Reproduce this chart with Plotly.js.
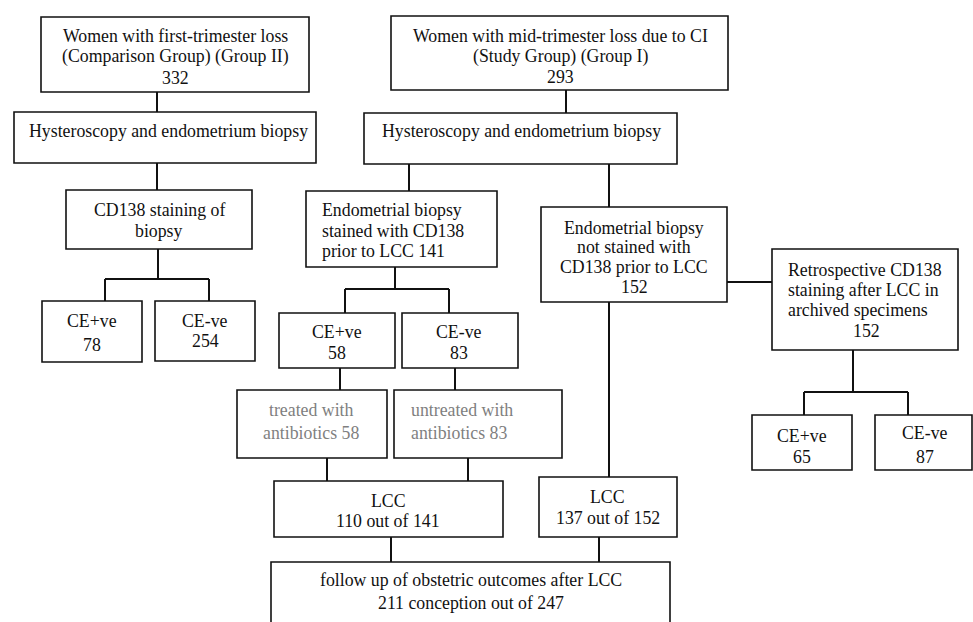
<!DOCTYPE html>
<html>
<head>
<meta charset="utf-8">
<script src="https://cdn.plot.ly/plotly-3.0.1.min.js"></script>
<style>html,body{margin:0;padding:0;background:#fff;}#chart{width:973px;height:622px;}</style>
</head>
<body>
<div id="chart"></div>
<script>
// ---- DATA ----
const nodeKeys = ['g2','hys2','stain2','g2pos','g2neg','g1','hys1','stained','g1pos','g1neg',
                  'treated','untreated','lcc1','notStained','retro','rpos','rneg','lcc2','follow'];
const nodeLines = [
  ['Women with first-trimester loss','(Comparison Group) (Group II)','{n}'],
  ['Hysteroscopy and endometrium biopsy'],
  ['CD138 staining of','biopsy'],
  ['CE+ve','{n}'],
  ['CE-ve','{n}'],
  ['Women with mid-trimester loss due to CI','(Study Group) (Group I)','{n}'],
  ['Hysteroscopy and endometrium biopsy'],
  ['Endometrial biopsy','stained with CD138','prior to LCC {n}'],
  ['CE+ve','{n}'],
  ['CE-ve','{n}'],
  ['treated with','antibiotics {n}'],
  ['untreated with','antibiotics {n}'],
  ['LCC','{n} out of {d}'],
  ['Endometrial biopsy','not stained with','CD138 prior to LCC','{n}'],
  ['Retrospective CD138','staining after LCC in','archived specimens','{n}'],
  ['CE+ve','{n}'],
  ['CE-ve','{n}'],
  ['LCC','{n} out of {d}'],
  ['follow up of obstetric outcomes after LCC','{n} conception out of {d}']
];
const nodeCounts = [332,null,null,78,254,293,null,141,58,83,58,83,110,152,152,65,87,137,211];
const nodeTotals = [null,null,null,null,null,null,null,null,null,null,null,null,141,null,null,null,null,152,247];
const links = [['g2','hys2'],['hys2','stain2'],['stain2','g2pos'],['stain2','g2neg'],
  ['g1','hys1'],['hys1','stained'],['hys1','notStained'],['stained','g1pos'],['stained','g1neg'],
  ['g1pos','treated'],['g1neg','untreated'],['treated','lcc1'],['untreated','lcc1'],
  ['notStained','retro'],['retro','rpos'],['retro','rneg'],['notStained','lcc2'],
  ['lcc1','follow'],['lcc2','follow']];

// ---- LAYOUT GEOMETRY (pixels) ----
// box: [x0,y0,x1,y1], tx: text x, al: align, ys: line centre y's, gray: text colour flag
const geom = {
  g2:        {box:[41,17,309,92],   tx:175, al:'center', ys:[35.5,56.8,78.2]},
  hys2:      {box:[14,112,316,163], tx:168, al:'center', ys:[131]},
  stain2:    {box:[66,190,252,249], tx:159, al:'center', ys:[209.5,231]},
  g2pos:     {box:[42,301,142,362], tx:92,  al:'center', ys:[321,344.5]},
  g2neg:     {box:[155,301,255,361],tx:205, al:'center', ys:[321,340.7]},
  g1:        {box:[391,16,728,90],  tx:560, al:'center', ys:[36,56,77]},
  hys1:      {box:[364,113,677,164],tx:521, al:'center', ys:[131]},
  stained:   {box:[306,191,497,267],tx:321, al:'left',   ys:[210,231,251]},
  g1pos:     {box:[279,313,395,368],tx:337, al:'center', ys:[332.3,353]},
  g1neg:     {box:[402,313,518,368],tx:459, al:'center', ys:[332.3,353]},
  treated:   {box:[237,390,387,458],tx:311, al:'center', ys:[410,433], gray:true},
  untreated: {box:[394,390,562,458],tx:410, al:'left',   ys:[410,433], gray:true},
  lcc1:      {box:[274,481,503,537],tx:388, al:'center', ys:[500.7,521]},
  notStained:{box:[541,207,727,302],tx:634, al:'center', ys:[228,247.3,266.7,287.3]},
  retro:     {box:[772,249,958,350],tx:787, al:'left',   ys:[269.7,290,310,330.7], lastCenter:866},
  rpos:      {box:[752,415,852,470],tx:802, al:'center', ys:[435.7,457.3]},
  rneg:      {box:[875,415,972,470],tx:925, al:'center', ys:[433,457.3]},
  lcc2:      {box:[539,477,677,537],tx:607.5,al:'center',ys:[497,518]},
  follow:    {box:[271,562,670,640],tx:470.5,al:'center',ys:[580,603]}
};
// connector polylines per link (pixels)
const linkPaths = {
  'g2>hys2': [[157,92],[157,112]],
  'hys2>stain2': [[157,163],[157,190]],
  'stain2>g2pos': [[158,249],[158,279],[105,279],[105,301]],
  'stain2>g2neg': [[158,279],[209,279],[209,301]],
  'g1>hys1': [[566,90],[566,113]],
  'hys1>stained': [[409,164],[409,191]],
  'hys1>notStained': [[609,164],[609,207]],
  'stained>g1pos': [[395,267],[395,289],[345,289],[345,313]],
  'stained>g1neg': [[395,289],[449,289],[449,313]],
  'g1pos>treated': [[340,368],[340,390]],
  'g1neg>untreated': [[455,368],[455,390]],
  'treated>lcc1': [[327,458],[327,481]],
  'untreated>lcc1': [[468,458],[468,481]],
  'notStained>retro': [[727,282],[772,282]],
  'retro>rpos': [[853,350],[853,392],[804,392],[804,415]],
  'retro>rneg': [[853,392],[908,392],[908,415]],
  'notStained>lcc2': [[609,302],[609,477]],
  'lcc1>follow': [[391,537],[391,562]],
  'lcc2>follow': [[599,537],[599,562]]
};

const FONT = 'Liberation Serif, Times New Roman, serif';
const FS = 17.8;
const shapes = [];
const annotations = [];

links.forEach(([a,b]) => {
  const pts = linkPaths[a+'>'+b];
  for (let i=0;i<pts.length-1;i++){
    shapes.push({type:'line', xref:'x', yref:'y',
      x0:pts[i][0], y0:pts[i][1], x1:pts[i+1][0], y1:pts[i+1][1],
      line:{color:'#111', width:2}});
  }
});

nodeKeys.forEach((k, i) => {
  const g = geom[k];
  shapes.push({type:'rect', xref:'x', yref:'y',
    x0:g.box[0], y0:g.box[1], x1:g.box[2], y1:g.box[3],
    line:{color:'#111', width:1.6}, fillcolor:'rgba(0,0,0,0)'});
  nodeLines[i].forEach((ln, j) => {
    const txt = ln.replace('{n}', nodeCounts[i] ?? '').replace('{d}', nodeTotals[i] ?? '');
    let x = g.tx, al = g.al;
    if (g.lastCenter && j === nodeLines[i].length-1) { x = g.lastCenter; al = 'center'; }
    annotations.push({xref:'x', yref:'y', x:x, y:g.ys[j], text:txt, showarrow:false,
      xanchor:al, yanchor:'middle', borderpad:0,
      font:{family:FONT, size:FS, color: g.gray ? '#7f7f7f' : '#111'}});
  });
});

const layout = {
  width:973, height:622,
  margin:{l:0,r:0,t:0,b:0},
  paper_bgcolor:'#fff', plot_bgcolor:'#fff',
  showlegend:false,
  xaxis:{range:[0,973], visible:false, fixedrange:true},
  yaxis:{range:[622,0], visible:false, fixedrange:true},
  shapes:shapes, annotations:annotations
};
Plotly.newPlot('chart', [{type:'scatter', x:[], y:[], mode:'markers'}], layout, {staticPlot:true, displayModeBar:false});
</script>
</body>
</html>
